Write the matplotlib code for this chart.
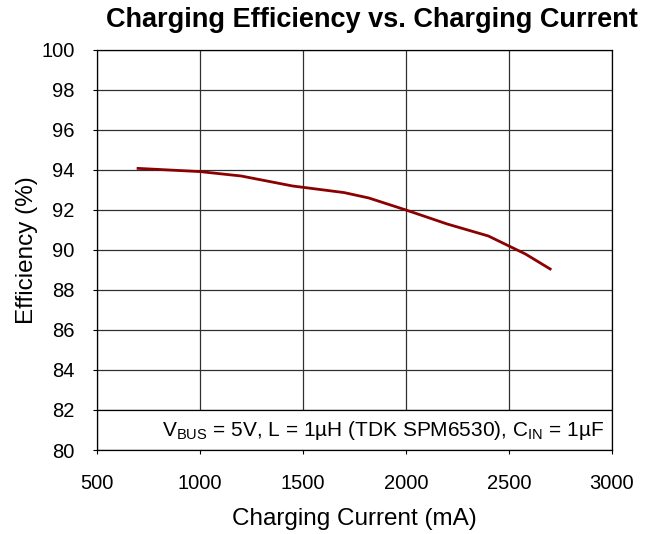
import numpy as np
import matplotlib
matplotlib.use("Agg")
import matplotlib.pyplot as plt

plt.rcParams['font.family'] = ['Liberation Sans', 'DejaVu Sans']
plt.rcParams['mathtext.fontset'] = 'custom'
plt.rcParams['mathtext.rm'] = 'Liberation Sans'

# efficiency curve
current_ma = [700, 1000, 1200, 1300, 1450, 1700, 1820, 2000, 2200, 2400, 2500, 2580, 2700]
efficiency = [94.08, 93.92, 93.7, 93.5, 93.2, 92.87, 92.6, 92.0, 91.3, 90.7, 90.2, 89.8, 89.05]

x_ticks = [500, 1000, 1500, 2000, 2500, 3000]
y_ticks = [80, 82, 84, 86, 88, 90, 92, 94, 96, 98, 100]

fig = plt.figure(figsize=(6.5, 5.34), dpi=100)
ax = fig.add_axes([0.149, 0.1573, 0.7925, 0.7491])

ax.plot(current_ma, efficiency, color='#8B0000', lw=2, zorder=3)

ax.set_xlim(500, 3000)
ax.set_ylim(80, 100)
ax.set_xticks(x_ticks)
ax.set_yticks(y_ticks)
ax.tick_params(labelsize=14.5, length=3, width=0.8, direction='out')
ax.tick_params(axis='x', pad=14)
ax.tick_params(axis='y', pad=13)
ax.grid(True, color='#303030', lw=0.9)
ax.set_axisbelow(True)
for s in ax.spines.values():
    s.set_linewidth(0.9)

# conditions band at the bottom of the plot
ax.axhspan(80, 82, facecolor='white', edgecolor='black', lw=0.9, zorder=2)
ax.text(0.985, 1.0 / 20, 'V$_{\\mathregular{BUS}}$ = 5V, L = 1\u00b5H (TDK SPM6530), C$_{\\mathregular{IN}}$ = 1\u00b5F',
        transform=ax.transAxes, ha='right', va='center', fontsize=15, zorder=4)

ax.set_xlabel('Charging Current (mA)', fontsize=17.5)
ax.set_ylabel('Efficiency (%)', fontsize=17.5)
ax.xaxis.set_label_coords(0.5, -0.145)
ax.yaxis.set_label_coords(-0.115, 0.5)
fig.text(0.572, 0.962, 'Charging Efficiency vs. Charging Current', ha='center', va='center',
         fontsize=19.5, fontweight='bold')

fig.savefig('out.png', dpi=100)
